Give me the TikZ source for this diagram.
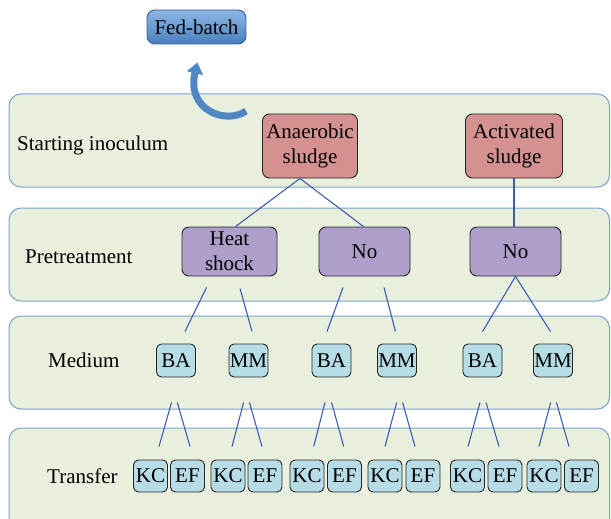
\documentclass[tikz,border=0pt]{standalone}
\usepackage{fontspec}
\setmainfont{Liberation Serif}
\usetikzlibrary{calc,arrows.meta}
\definecolor{bandfill}{HTML}{E9EFDD}
\definecolor{bandline}{HTML}{7BA1D0}
\definecolor{pinkbox}{HTML}{D59090}
\definecolor{purplebox}{HTML}{AE9FCA}
\definecolor{cyanbox}{HTML}{B6DDE6}
\definecolor{linkblue}{HTML}{3C5DB3}
\definecolor{arrowblue}{HTML}{4F86C3}
\definecolor{fbtop}{HTML}{8DB8E4}
\definecolor{fbbot}{HTML}{4A7EBE}
\definecolor{fbline}{HTML}{2F5F9A}
\begin{document}
\begin{tikzpicture}[x=1pt,y=-1pt, font=\fontsize{21}{25}\selectfont,
 band/.style={draw=bandline, fill=bandfill, line width=1pt, rounded corners=12pt},
 box/.style={draw=black!85, line width=0.9pt, rounded corners=7pt, inner sep=0pt, align=center},
 inoc/.style={box, fill=pinkbox, minimum width=95pt, minimum height=64pt},
 pret/.style={box, fill=purplebox, minimum width=91pt, minimum height=49pt},
 med/.style={box, fill=cyanbox, minimum width=39pt, minimum height=33pt, rounded corners=5pt},
 trans/.style={box, fill=cyanbox, minimum width=34pt, minimum height=32pt, rounded corners=5pt},
 link/.style={draw=linkblue, line width=1.1pt},
 lbl/.style={anchor=west, inner sep=0pt}]
\useasboundingbox (0,0) rectangle (611,519);
\clip (0,0) rectangle (611,519);
% bands
\draw[band] (9,94) rectangle (609.5,187);
\draw[band] (9,208) rectangle (609.5,301);
\draw[band] (9,316) rectangle (609.5,409);
\draw[band] (9,428) rectangle (609.5,540);
% band labels
\node[lbl] (l1) at (17,145) {Starting inoculum};
\node[lbl] (l2) at (25,257) {Pretreatment};
\node[lbl] (l3) at (48,360) {Medium};
\node[lbl] (l4) at (47,476) {Transfer};
% fed-batch
\node[box, minimum width=99pt, minimum height=34pt, rounded corners=8pt, draw=fbline, top color=fbtop, bottom color=fbbot] (fb) at (196.5,27) {Fed-batch};
\coordinate (arrtail) at (246,111);
\draw[arrowblue, line width=7pt, -{Triangle[width=16pt,length=11pt]}] (arrtail) .. controls (226,125) and (186,110) .. ($(fb.south)+(1,18)$);
% inoculum
\node[inoc] (an) at (310,146) {Anaerobic\\sludge};
\node[inoc, minimum width=97pt] (ac) at (514,146) {Activated\\sludge};
% pretreatment
\node[pret, minimum width=95pt] (hs) at (229.5,251.5) {Heat\\shock};
\node[pret] (no1) at (364.5,251.5) {No};
\node[pret] (no2) at (515.5,251.5) {No};
% medium
\node[med] (ba1) at (176,360.5) {BA};
\node[med] (mm1) at (248.5,360.5) {MM};
\node[med] (ba2) at (331.5,360.5) {BA};
\node[med] (mm2) at (397,360.5) {MM};
\node[med] (ba3) at (482.5,360.5) {BA};
\node[med] (mm3) at (553,360.5) {MM};
% transfer
\node[trans] (kc1) at (150.5,476) {KC};
\node[trans] (ef1) at (187.5,476) {EF};
\node[trans] (kc2) at (228,476) {KC};
\node[trans] (ef2) at (265,476) {EF};
\node[trans] (kc3) at (307,476) {KC};
\node[trans] (ef3) at (344.5,476) {EF};
\node[trans] (kc4) at (385,476) {KC};
\node[trans] (ef4) at (423,476) {EF};
\node[trans] (kc5) at (467.5,476) {KC};
\node[trans] (ef5) at (505,476) {EF};
\node[trans] (kc6) at (544,476) {KC};
\node[trans] (ef6) at (581.5,476) {EF};
% links level 1-2
\draw[link] ($(an.south)+(-10,0)$) -- ($(hs.north)+(6,0)$);
\draw[link] ($(an.south)+(-10,0)$) -- ($(no1.north)+(-1,0)$);
\draw[link] (ac.south) -- (ac.south |- no2.north);
% links level 2-3
\draw[link] ($(hs.south)+(-23,11)$) -- ($(ba1.north)+(9,-12)$);
\draw[link] ($(hs.south)+(10.5,12)$) -- ($(mm1.north)+(3.5,-12)$);
\draw[link] ($(no1.south)+(-21.5,11)$) -- ($(ba2.north)+(-4.5,-12)$);
\draw[link] ($(no1.south)+(19.5,11)$) -- ($(mm2.north)+(-1.5,-12)$);
\draw[link] (no2.south) -- ($(ba3.north)+(0,-12)$);
\draw[link] (no2.south) -- ($(mm3.north)+(-2.5,-12)$);
% links level 3-4
\draw[link] ($(ba1.south)+(-4.5,25)$) -- ($(kc1.north)+(8.5,-13)$);
\draw[link] ($(ba1.south)+(1.3,25)$) -- ($(ef1.north)+(2.5,-13)$);
\draw[link] ($(mm1.south)+(-4.9,25)$) -- ($(kc2.north)+(4,-13)$);
\draw[link] ($(mm1.south)+(0.9,25)$) -- ($(ef2.north)+(-3,-13)$);
\draw[link] ($(ba2.south)+(-6.5,25)$) -- ($(kc3.north)+(6.7,-13)$);
\draw[link] ($(ba2.south)+(0.1,25)$) -- ($(ef3.north)+(-0.8,-13)$);
\draw[link] ($(mm2.south)+(-0.3,25)$) -- ($(kc4.north)+(0,-13)$);
\draw[link] ($(mm2.south)+(5.6,25)$) -- ($(ef4.north)+(-8,-13)$);
\draw[link] ($(ba3.south)+(-2.5,25)$) -- ($(kc5.north)+(0.5,-13)$);
\draw[link] ($(ba3.south)+(3.5,25)$) -- ($(ef5.north)+(-6,-13)$);
\draw[link] ($(mm3.south)+(-2.3,25)$) -- ($(kc6.north)+(-5,-13)$);
\draw[link] ($(mm3.south)+(3.5,25)$) -- ($(ef6.north)+(-12.5,-13)$);
\end{tikzpicture}
\end{document}
